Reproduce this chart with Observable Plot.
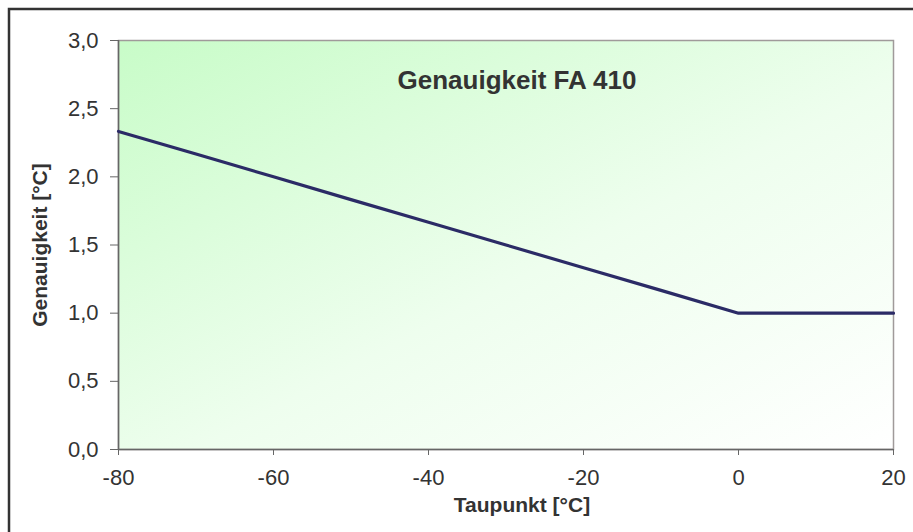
<!DOCTYPE html>
<html>
<head>
<meta charset="utf-8">
<script src="https://cdn.jsdelivr.net/npm/d3@7"></script>
<script src="https://cdn.jsdelivr.net/npm/@observablehq/plot@0.6"></script>
<style>
  html, body { margin: 0; padding: 0; background: #fff; }
  #chart { position: relative; width: 913px; height: 532px; overflow: hidden; }
</style>
</head>
<body>
<div id="chart"></div>
<script>
// Data
const taupunkt = [-80, -70, -60, -50, -40, -30, -20, -10, 0, 10, 20];
const genauigkeit = [2.333, 2.167, 2.0, 1.833, 1.667, 1.5, 1.333, 1.167, 1.0, 1.0, 1.0];
const xTicks = [-80, -60, -40, -20, 0, 20];
const yTicks = [0, 0.5, 1.0, 1.5, 2.0, 2.5, 3.0];
const titleText = "Genauigkeit FA 410";
const xLabel = "Taupunkt [°C]";
const yLabel = "Genauigkeit [°C]";

const data = taupunkt.map((t, i) => ({t, g: genauigkeit[i]}));

const font = "'Liberation Sans', Arial, sans-serif";

const plot = Plot.plot({
  width: 913,
  height: 532,
  marginLeft: 118,
  marginRight: 20,
  marginTop: 40,
  marginBottom: 83,
  style: {fontFamily: font, fontSize: "22px", color: "#333", background: "transparent"},
  x: {domain: [-80, 20], label: null},
  y: {domain: [0, 3], label: null},
  marks: [
    Plot.frame({fill: "url(#bggrad)", stroke: "#a09a9a", strokeWidth: 1.5}),
    Plot.ruleX([-80], {stroke: "#666", strokeWidth: 1.5}),
    Plot.ruleY([0], {stroke: "#666", strokeWidth: 1.5}),
    Plot.axisX({ticks: xTicks, tickFormat: d => String(d), tickSize: 6, tickPadding: 14, stroke: "#666", fill: "#333", fontSize: 22, label: null}),
    Plot.axisY({ticks: yTicks, tickFormat: d => d.toFixed(1).replace(".", ","), tickSize: 8, tickPadding: 12, stroke: "#666", fill: "#333", fontSize: 22, label: null}),
    Plot.line(data, {x: "t", y: "g", stroke: "#2b2b66", strokeWidth: 3.2}),
    Plot.text([titleText], {frameAnchor: "top", dx: 11, dy: 30, text: d => d, fontSize: 26, fontWeight: "bold", fill: "#333"}),
    Plot.text([xLabel], {frameAnchor: "bottom", dx: 16, dy: 62, text: d => d, fontSize: 21, fontWeight: "bold", fill: "#333"}),
    Plot.text([yLabel], {frameAnchor: "left", dx: -78, rotate: -90, textAnchor: "middle", text: d => d, fontSize: 21, fontWeight: "bold", fill: "#333"})
  ]
});

const svg = d3.select(plot);
const defs = svg.insert("defs", ":first-child");
const grad = defs.append("linearGradient")
  .attr("id", "bggrad")
  .attr("x1", "0%").attr("y1", "0%")
  .attr("x2", "100%").attr("y2", "100%");
grad.append("stop").attr("offset", "0%").attr("stop-color", "#c8fcc8");
grad.append("stop").attr("offset", "55%").attr("stop-color", "#eefeee");
grad.append("stop").attr("offset", "100%").attr("stop-color", "#ffffff");

// outer chart-area border (top and left visible, rest extends beyond view)
svg.append("rect")
  .attr("x", 9).attr("y", 9)
  .attr("width", 1200).attr("height", 1200)
  .attr("fill", "none").attr("stroke", "#333").attr("stroke-width", 2.5);

document.getElementById("chart").appendChild(plot);
</script>
</body>
</html>
